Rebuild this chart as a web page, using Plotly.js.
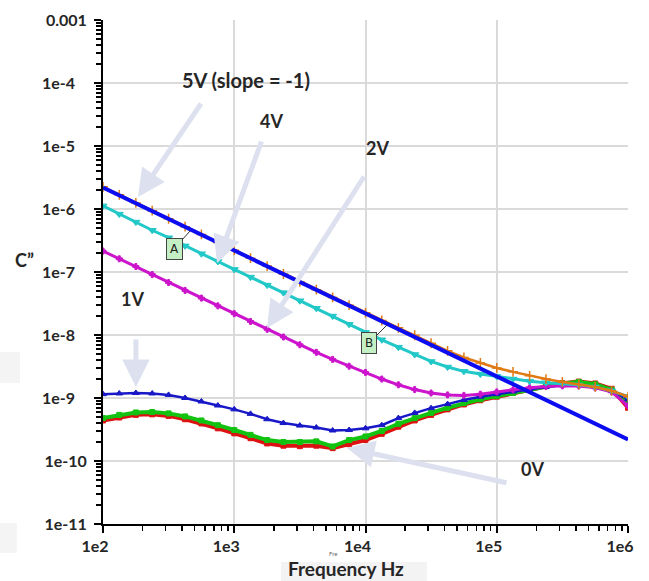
<!DOCTYPE html>
<html>
<head>
<meta charset="utf-8">
<script src="https://cdn.plot.ly/plotly-3.0.1.min.js"></script>
<style>html,body{margin:0;padding:0;background:#fff;}#chart{width:649px;height:581px;}</style>
</head>
<body>
<div id="chart"></div>
<script>
// ---- data ----
const freq = [100,133,178,237,316,422,562,750,1000,1330,1780,2370,3160,4220,5620,7500,
  1e4,1.33e4,1.78e4,2.37e4,3.16e4,4.22e4,5.62e4,7.5e4,1e5,1.33e5,1.78e5,2.37e5,3.16e5,4.22e5,5.62e5,7.5e5,1e6];

const c0V_red = [4.4e-10,4.9e-10,5.4e-10,5.5e-10,5.2e-10,4.6e-10,3.95e-10,3.3e-10,2.75e-10,2.3e-10,1.9e-10,1.75e-10,1.72e-10,1.75e-10,1.6e-10,1.85e-10,
  2.15e-10,2.7e-10,3.5e-10,4.4e-10,5.4e-10,6.6e-10,7.9e-10,9.2e-10,1.05e-9,1.2e-9,1.35e-9,1.55e-9,1.72e-9,1.82e-9,1.7e-9,1.4e-9,7e-10];
const c0V_green = [4.8e-10,5.4e-10,5.9e-10,6.0e-10,5.7e-10,5.1e-10,4.4e-10,3.7e-10,3.1e-10,2.6e-10,2.15e-10,2.0e-10,2.0e-10,2.05e-10,1.7e-10,2.15e-10,
  2.45e-10,3.0e-10,3.9e-10,4.8e-10,5.8e-10,7.0e-10,8.3e-10,9.5e-10,1.07e-9,1.2e-9,1.35e-9,1.55e-9,1.7e-9,1.8e-9,1.65e-9,1.35e-9,8.5e-10];
const c1V = [1.15e-9,1.18e-9,1.2e-9,1.18e-9,1.12e-9,1.0e-9,8.8e-10,7.6e-10,6.6e-10,5.6e-10,4.6e-10,4.0e-10,3.65e-10,3.4e-10,3.05e-10,3.1e-10,
  3.3e-10,3.7e-10,4.8e-10,5.8e-10,6.9e-10,8.0e-10,9.3e-10,1.05e-9,1.15e-9,1.27e-9,1.4e-9,1.5e-9,1.6e-9,1.62e-9,1.5e-9,1.3e-9,9.5e-10];
const c2V = [2.15e-7,1.62e-7,1.22e-7,9.1e-8,6.8e-8,5.1e-8,3.85e-8,2.9e-8,2.18e-8,1.64e-8,1.23e-8,9.3e-9,7.0e-9,5.3e-9,4.1e-9,3.2e-9,
  2.55e-9,2.0e-9,1.62e-9,1.36e-9,1.2e-9,1.12e-9,1.1e-9,1.15e-9,1.25e-9,1.35e-9,1.45e-9,1.52e-9,1.56e-9,1.55e-9,1.45e-9,1.25e-9,7.5e-10];
const c4V = [1.12e-6,8.3e-7,6.2e-7,4.6e-7,3.5e-7,2.6e-7,1.95e-7,1.47e-7,1.1e-7,8.3e-8,6.2e-8,4.7e-8,3.5e-8,2.65e-8,2.0e-8,1.48e-8,
  1.1e-8,8.4e-9,6.4e-9,4.9e-9,3.8e-9,3.1e-9,2.65e-9,2.4e-9,2.2e-9,2.0e-9,1.85e-9,1.75e-9,1.7e-9,1.62e-9,1.5e-9,1.3e-9,1.05e-9];
const c5V = [2.25e-6,1.68e-6,1.25e-6,9.4e-7,7.0e-7,5.25e-7,3.95e-7,2.95e-7,2.22e-7,1.66e-7,1.24e-7,9.3e-8,7.0e-8,5.25e-8,3.95e-8,2.97e-8,
  2.25e-8,1.7e-8,1.3e-8,9.9e-9,7.4e-9,5.6e-9,4.4e-9,3.6e-9,3.0e-9,2.6e-9,2.25e-9,2.0e-9,1.8e-9,1.65e-9,1.5e-9,1.3e-9,1.05e-9];
const fitFreq = [100, 1e6];
const fitC = [2.2e-6, 2.2e-10];

const xTickVals = [1e2,1e3,1e4,1e5,1e6];
const xTickText = ['1e2','1e3','1e4','1e5','1e6'];
const yTickVals = [1e-3,1e-4,1e-5,1e-6,1e-7,1e-8,1e-9,1e-10,1e-11];
const yTickText = ['0.001','1e-4','1e-5','1e-6','1e-7','1e-8','1e-9','1e-10','1e-11'];

const labelTexts = ['5V (slope = -1)','4V','2V','1V','0V'];
const xTitle = 'Frequency Hz';
const yTitle = 'C\u201d';

// ---- styling ----
const FONT = 'Lato, "Open Sans", sans-serif';
const TXT = '#262626';
const ARROW = '#dde1ef';

function padRight(s, n){ return s + '\u00a0'.repeat(n); }
const yTickShown = yTickText.map(s => padRight(s, Math.max(0, 5 - s.length) * 3));

function tr(y, color, symbol, size, lw, extra){
  return Object.assign({
    x: freq, y: y, type: 'scatter', mode: 'lines+markers',
    line: {color: color, width: lw},
    marker: {symbol: symbol, size: size, color: color, line: {color: color, width: 1}},
    hoverinfo: 'skip'
  }, extra || {});
}

const traces = [
  tr(c0V_red, '#dd1111', 'square', 5, 4),
  tr(c0V_green, '#12c312', 'square', 5, 4),
  tr(c1V, '#1818c8', 'triangle-up', 6, 2.5),
  tr(c2V, '#cc14cc', 'cross', 5, 3),
  tr(c4V, '#22c8c8', 'triangle-down', 7, 3),
  tr(c5V, '#e07a14', 'cross-thin-open', 7, 2.5, {marker:{symbol:'cross-thin-open', size:7, color:'#e07a14', line:{color:'#e07a14', width:1.5}}}),
  {x: fitFreq, y: fitC, type:'scatter', mode:'lines', line:{color:'#0c0cf0', width:4}, hoverinfo:'skip'}
];

const lab = (text, x, y, size) => ({text: text, x: x, y: y, xref:'x', yref:'y', showarrow:false,
  xanchor:'center', yanchor:'middle',
  font:{family:FONT, size:size||18, color:TXT, weight:'bold'}});
const arr = (x, y, ax, ay) => ({text:'', x:x, y:y, xref:'x', yref:'y', ax:ax, ay:ay, axref:'pixel', ayref:'pixel',
  showarrow:true, arrowhead:2, arrowsize:1.1, arrowwidth:5, arrowcolor:ARROW, standoff:0});
const box = (text, x, y, ax, ay) => ({text:text, x:x, y:y, xref:'x', yref:'y', ax:ax, ay:ay, showarrow:true,
  arrowhead:0, arrowwidth:1, arrowcolor:'#333', bgcolor:'#c4efc4', bordercolor:'#444', borderwidth:1, borderpad:3,
  font:{family:'"DejaVu Sans", sans-serif', size:12, color:'#222'}});

const annotations = [
  arr(2.267, -5.810, 64, -95),
  arr(2.869, -6.857, 45, -123),
  arr(3.250, -7.889, 98, -153),
  arr(2.251, -8.825, 0, -49),
  arr(3.859, -9.794, 161, 35),
  lab(labelTexts[0], 3.090, -3.952, 20),
  lab(labelTexts[1], 3.280, -4.603),
  lab(labelTexts[2], 4.095, -5.032),
  lab(labelTexts[3], 2.221, -7.429),
  lab(labelTexts[4], 5.276, -10.127),
  box('A', 2.663, -6.349, -16, 18),
  box('B', 4.164, -7.841, -18, 18),
  {text: yTitle, xref:'paper', yref:'paper', x:-0.150, y:0.524, xanchor:'center', yanchor:'middle', showarrow:false,
   font:{family:FONT, size:18, color:TXT, weight:'bold'}},
  {text: xTitle, xref:'paper', yref:'paper', x:0.463, y:-0.0875, xanchor:'center', yanchor:'middle', showarrow:false,
   font:{family:FONT, size:19, color:TXT, weight:'bold'}},
  {text: 'Fre', xref:'paper', yref:'paper', x:0.438, y:-0.058, xanchor:'center', yanchor:'middle', showarrow:false,
   font:{family:FONT, size:6, color:'#666'}}
];

const shapes = [
  {type:'rect', xref:'paper', yref:'paper', x0:0.339, x1:0.617, y0:-0.123, y1:-0.0754, fillcolor:'#f3f3f3', line:{width:0}, layer:'below'},
  {type:'rect', xref:'paper', yref:'paper', x0:-0.196, x1:-0.158, y0:0.28, y1:0.341, fillcolor:'#f4f4f4', line:{width:0}, layer:'below'},
  {type:'rect', xref:'paper', yref:'paper', x0:-0.196, x1:-0.164, y0:-0.0575, y1:0.002, fillcolor:'#f4f4f4', line:{width:0}, layer:'below'}
];

const axisCommon = {
  type:'log', showgrid:true, gridcolor:'#dadada', gridwidth:2, zeroline:false,
  showline:true, linecolor:'#000', linewidth:2, ticks:'outside', ticklen:7, tickwidth:2, tickcolor:'#000',
  tickmode:'array', tickfont:{family:FONT, size:16, color:TXT, weight:'bold'},
  minor:{ticks:'outside', ticklen:5, tickwidth:1.5, tickcolor:'#000', dtick:'D1', showgrid:false}
};

const layout = {
  width:649, height:581, margin:{l:103, r:21, t:20, b:57},
  paper_bgcolor:'#fff', plot_bgcolor:'#fff', showlegend:false,
  xaxis: Object.assign({}, axisCommon, {range:[2,6], tickvals:xTickVals, ticktext:xTickText, ticklabelshift:-8}),
  yaxis: Object.assign({}, axisCommon, {range:[-11,-3], tickvals:yTickVals, ticktext:yTickShown, ticklabelstandoff:4}),
  annotations: annotations, shapes: shapes
};

Plotly.newPlot('chart', traces, layout, {staticPlot:true, displayModeBar:false});
</script>
</body>
</html>
